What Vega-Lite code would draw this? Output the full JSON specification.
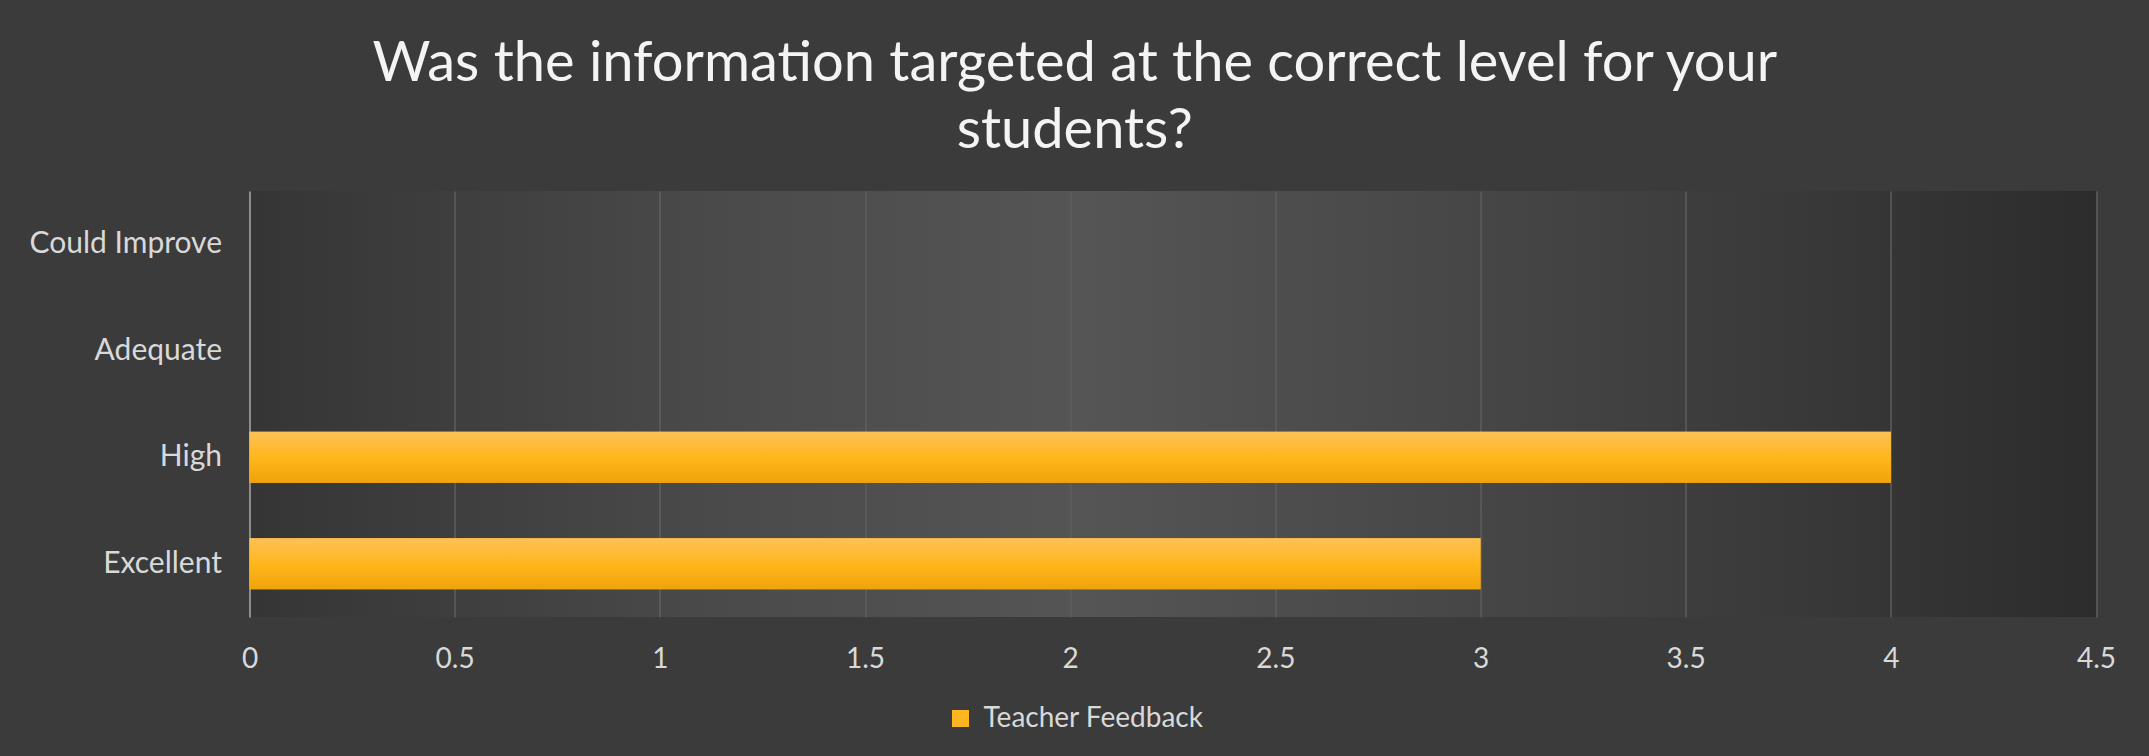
{
  "$schema": "https://vega.github.io/schema/vega-lite/v6.json",
  "width": 1846.5,
  "height": 426,
  "autosize": {"type": "none"},
  "padding": {"left": 249.5, "top": 191, "right": 53, "bottom": 139},
  "background": "#3b3b3b",
  "config": {
    "view": {
      "stroke": null,
      "fill": {
        "gradient": "linear",
        "x1": 0, "y1": 0, "x2": 1, "y2": 0,
        "stops": [
          {"offset": 0, "color": "#353535"},
          {"offset": 0.25, "color": "#4a4a4a"},
          {"offset": 0.45, "color": "#555555"},
          {"offset": 0.7, "color": "#444444"},
          {"offset": 1, "color": "#2c2c2c"}
        ]
      }
    },
    "font": "Lato"
  },
  "title": {
    "text": ["Was the information targeted at the correct level for your", "students?"],
    "fontSize": 56,
    "font": "Lato",
    "fontWeight": "normal",
    "color": "#f4f4f4",
    "anchor": "middle",
    "frame": "group",
    "dx": -98,
    "dy": 65,
    "offset": 40,
    "lineHeight": 67,
    "baseline": "bottom"
  },
  "data": {
    "values": [
      {"rating": "Could Improve", "count": 0, "series": "Teacher Feedback"},
      {"rating": "Adequate", "count": 0, "series": "Teacher Feedback"},
      {"rating": "High", "count": 4, "series": "Teacher Feedback"},
      {"rating": "Excellent", "count": 3, "series": "Teacher Feedback"}
    ]
  },
  "encoding": {
    "y": {
      "field": "rating",
      "type": "nominal",
      "sort": ["Could Improve", "Adequate", "High", "Excellent"],
      "scale": {"paddingInner": 0.52, "paddingOuter": 0.26},
      "axis": {
        "title": null,
        "domain": true,
        "domainColor": "#8c8c8c",
        "domainWidth": 2,
        "ticks": false,
        "grid": false,
        "labelFontSize": 30,
        "labelColor": "#d9d9d9",
        "labelPadding": 28,
        "labelLimit": 400,
        "labelFont": "Lato"
      }
    },
    "x": {
      "field": "count",
      "type": "quantitative",
      "scale": {"domain": [0, 4.5], "nice": false},
      "axis": {
        "title": null,
        "values": [0, 0.5, 1, 1.5, 2, 2.5, 3, 3.5, 4, 4.5],
        "format": "~g",
        "domain": false,
        "ticks": false,
        "grid": true,
        "gridColor": "#5e5e5e",
        "gridWidth": 1.5,
        "labelFontSize": 28,
        "labelColor": "#d9d9d9",
        "labelPadding": 28,
        "labelFlush": false,
        "labelFont": "Lato"
      }
    }
  },
  "layer": [
    {
      "mark": {"type": "bar"},
      "encoding": {
        "color": {
          "field": "series",
          "type": "nominal",
          "scale": {"range": ["#fdb521"]},
          "legend": {
            "title": null,
            "orient": "none",
            "legendX": 697,
            "legendY": 513.5,
            "direction": "horizontal",
            "symbolType": "square",
            "symbolSize": 289,
            "symbolStrokeWidth": 0,
            "labelFontSize": 28,
            "labelColor": "#d9d9d9",
            "labelOffset": 9,
            "labelLimit": 500,
            "labelFont": "Lato",
            "padding": 0
          }
        }
      }
    },
    {
      "mark": {
        "type": "bar",
        "color": {
          "gradient": "linear",
          "x1": 0, "y1": 0, "x2": 0, "y2": 1,
          "stops": [
            {"offset": 0, "color": "#fdc157"},
            {"offset": 0.5, "color": "#ffb71c"},
            {"offset": 1, "color": "#f0a30a"}
          ]
        }
      }
    }
  ]
}
